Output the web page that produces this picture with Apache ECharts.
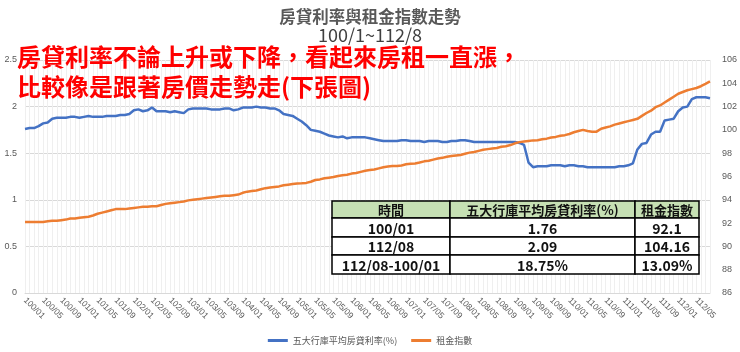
<!DOCTYPE html>
<html>
<head>
<meta charset="utf-8">
<script src="https://cdn.jsdelivr.net/npm/echarts@6/dist/echarts.min.js"></script>
<style>
html,body{margin:0;padding:0;background:#fff;}
#main{width:740px;height:352px;}
</style>
</head>
<body>
<div id="main"></div>
<script>
var titleText = '房貸利率與租金指數走勢';
var subText = '100/1~112/8';
var noteLines = ['房貸利率不論上升或下降，看起來房租一直漲，', '比較像是跟著房價走勢走(下張圖)'];
var seriesNames = ['五大行庫平均房貸利率(%)', '租金指數'];

// 100/01 ~ 112/08 月資料
var rateData = [
    1.76,1.77,1.77,1.79,1.82,1.83,1.87,1.88,1.88,1.88,1.89,1.89,
    1.88,1.89,1.90,1.89,1.89,1.89,1.90,1.90,1.90,1.91,1.91,1.92,
    1.96,1.97,1.95,1.96,1.99,1.95,1.95,1.95,1.94,1.95,1.94,1.93,
    1.97,1.98,1.98,1.98,1.98,1.97,1.97,1.97,1.98,1.98,1.96,1.97,
    1.99,1.99,1.99,2.00,1.99,1.99,1.98,1.98,1.96,1.92,1.91,1.90,
    1.87,1.84,1.80,1.75,1.74,1.73,1.71,1.69,1.68,1.67,1.68,1.66,
    1.67,1.67,1.67,1.67,1.66,1.65,1.64,1.63,1.63,1.63,1.63,1.64,
    1.64,1.63,1.63,1.63,1.62,1.63,1.63,1.63,1.62,1.62,1.63,1.63,
    1.64,1.64,1.63,1.62,1.62,1.62,1.62,1.62,1.62,1.62,1.62,1.62,
    1.62,1.61,1.59,1.40,1.35,1.36,1.36,1.36,1.37,1.37,1.37,1.36,
    1.37,1.37,1.36,1.36,1.35,1.35,1.35,1.35,1.35,1.35,1.35,1.36,
    1.36,1.37,1.39,1.54,1.60,1.61,1.70,1.73,1.73,1.85,1.86,1.87,
    1.95,1.99,2.00,2.08,2.10,2.10,2.10,2.09
];
var rentData = [
    92.1,92.1,92.1,92.1,92.1,92.15,92.2,92.2,92.25,92.3,92.4,92.4,
    92.45,92.5,92.55,92.65,92.8,92.9,93.0,93.1,93.2,93.2,93.2,93.25,
    93.3,93.35,93.4,93.4,93.45,93.45,93.55,93.65,93.7,93.75,93.8,93.85,
    93.95,94.0,94.05,94.1,94.15,94.2,94.25,94.3,94.35,94.35,94.4,94.45,
    94.6,94.7,94.75,94.8,94.9,95.0,95.05,95.1,95.15,95.25,95.3,95.35,
    95.4,95.42,95.45,95.55,95.7,95.75,95.85,95.9,95.95,96.05,96.1,96.15,
    96.25,96.3,96.4,96.5,96.55,96.6,96.7,96.8,96.85,96.9,96.9,96.95,
    97.05,97.1,97.12,97.2,97.3,97.35,97.45,97.55,97.6,97.7,97.75,97.8,
    97.85,97.95,98.05,98.1,98.2,98.3,98.35,98.4,98.45,98.55,98.6,98.7,
    98.85,98.95,99.0,99.05,99.1,99.12,99.2,99.25,99.35,99.4,99.5,99.55,
    99.65,99.8,99.9,100.0,99.9,99.85,99.85,100.1,100.2,100.3,100.45,100.55,
    100.65,100.75,100.85,100.95,101.2,101.45,101.65,101.95,102.1,102.35,102.6,102.85,
    103.1,103.25,103.4,103.5,103.6,103.75,103.95,104.16
];
var tableHead = ['時間', '五大行庫平均房貸利率(%)', '租金指數'];
var tableRows = [
    ['100/01', '1.76', '92.1'],
    ['112/08', '2.09', '104.16'],
    ['112/08-100/01', '18.75%', '13.09%']
];

var months = [];
for (var y = 100; y <= 112; y++) {
    for (var m = 1; m <= 12; m++) {
        if (y == 112 && m > 8) break;
        months.push(y + '/' + (m < 10 ? '0' + m : m));
    }
}

var cjk = '"Noto Sans CJK TC", "Noto Sans", sans-serif';

/*表格*/
var tableEls = [];
var tx = 332, ty = 201;
var colW = [118, 185, 64];
var rowH = [17, 19, 18, 19];
var allRows = [tableHead].concat(tableRows);
var cy = ty;
for (var r = 0; r < allRows.length; r++) {
    var cx = tx;
    for (var c = 0; c < colW.length; c++) {
        tableEls.push({
            type: 'rect',
            z: 100,
            shape: {x: cx, y: cy, width: colW[c], height: rowH[r]},
            style: {fill: r == 0 ? '#C6E0B4' : '#ffffff', stroke: '#000', lineWidth: 1.5}
        });
        tableEls.push({
            type: 'text',
            z: 101,
            style: {
                text: allRows[r][c],
                x: cx + colW[c] / 2,
                y: cy + rowH[r] / 2 + 1,
                align: 'center', verticalAlign: 'middle',
                textAlign: 'center', textVerticalAlign: 'middle',
                fill: '#111',
                fontSize: r == 0 ? 13 : 14,
                fontWeight: 'bold',
                fontFamily: cjk
            }
        });
        cx += colW[c];
    }
    cy += rowH[r];
}

var noteEls = [];
for (var i = 0; i < noteLines.length; i++) {
    noteEls.push({
        type: 'text',
        z: 120,
        style: {
            text: noteLines[i],
            x: 17,
            y: 57 + i * 29.5,
            verticalAlign: 'middle', textVerticalAlign: 'middle',
            fill: '#ff0000',
            fontSize: 24,
            fontWeight: 'bold',
            fontFamily: cjk
        }
    });
}

var dom = document.getElementById('main');
var myChart = echarts.init(dom);
var option = {
    backgroundColor: '#fff',
    animation: false,
    color: ['#4472C4', '#ED7D31'],
    title: {
        text: titleText,
        subtext: subText,
        left: 'center',
        top: 3,
        itemGap: 2,
        textStyle: {fontSize: 16.5, fontWeight: 'bold', color: '#595959', fontFamily: cjk},
        subtextStyle: {fontSize: 18, color: '#404040', fontFamily: cjk}
    },
    legend: {
        data: seriesNames,
        left: 'center',
        top: 331,
        icon: 'rect',
        itemWidth: 20,
        itemHeight: 3,
        itemGap: 14,
        textStyle: {fontSize: 9, color: '#595959', fontFamily: cjk}
    },
    grid: {left: 25, right: 27, top: 60, bottom: 59},
    xAxis: {
        type: 'category',
        boundaryGap: false,
        data: months,
        axisLine: {lineStyle: {color: '#d9d9d9'}},
        axisTick: {show: false},
        axisLabel: {
            interval: 3,
            rotate: -45,
            margin: 6,
            fontSize: 8.5,
            color: '#595959',
            fontFamily: 'Liberation Sans, sans-serif'
        },
        splitLine: {show: true, interval: 0, lineStyle: {color: '#efefef'}}
    },
    yAxis: [
        {
            type: 'value',
            min: 0,
            max: 2.5,
            interval: 0.5,
            axisLine: {show: false},
            axisTick: {show: false},
            axisLabel: {fontSize: 9, color: '#595959', margin: 8},
            splitLine: {lineStyle: {color: '#d9d9d9'}}
        },
        {
            type: 'value',
            min: 86,
            max: 106,
            interval: 2,
            axisLine: {show: false},
            axisTick: {show: false},
            axisLabel: {fontSize: 9, color: '#595959', margin: 12},
            splitLine: {show: false}
        }
    ],
    series: [
        {
            name: seriesNames[0],
            type: 'line',
            yAxisIndex: 0,
            symbol: 'none',
            lineStyle: {width: 2.5},
            data: rateData
        },
        {
            name: seriesNames[1],
            type: 'line',
            yAxisIndex: 1,
            symbol: 'none',
            lineStyle: {width: 2.5},
            data: rentData
        }
    ],
    graphic: tableEls.concat(noteEls)
};
myChart.setOption(option);
</script>
</body>
</html>
